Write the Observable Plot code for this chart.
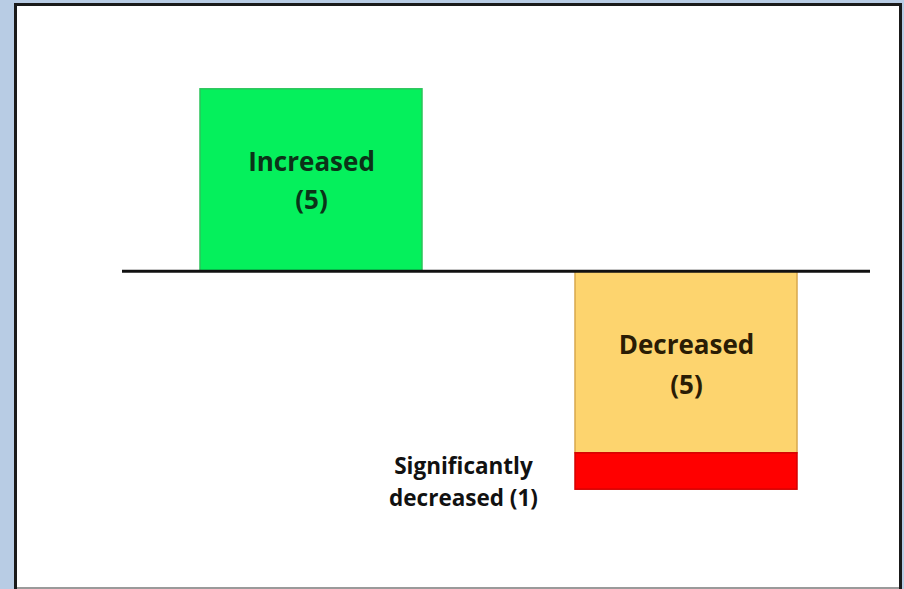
<!DOCTYPE html>
<html>
<head>
<meta charset="utf-8">
<script src="https://cdn.jsdelivr.net/npm/d3@7"></script>
<script src="https://cdn.jsdelivr.net/npm/@observablehq/plot@0.6"></script>
<style>
  html, body { margin: 0; padding: 0; }
  body { width: 904px; height: 589px; background: #b8cce4; position: relative; overflow: hidden; font-family: "Open Sans", Lato, sans-serif; }
  #panel { position: absolute; left: 14px; top: 3px; width: 888px; height: 590px; background: #fff; border-left: 3px solid #1a1a1a; border-top: 3px solid #1a1a1a; border-right: 3px solid #1a1a1a; box-sizing: border-box; }
  #bottomline { position: absolute; left: 17px; top: 587px; width: 882px; height: 2px; background: #9a9a9a; }
  #chart { position: absolute; left: 0; top: 0; }
</style>
</head>
<body>
<div id="panel"></div>
<div id="bottomline"></div>
<div id="chart"></div>
<script>
// Data
const categories = ["Increased", "Decreased"];
const segCategory = ["Increased", "Decreased", "Decreased"];
const segType = ["increased", "decreased", "significantly decreased"];
const segValue = [5, -5, -1];
const segColor = ["#05f05c", "#fdd46e", "#ff0000"];
const segStroke = ["#2bc45a", "#d8a84c", "#d40000"];

const labelCategory = ["Increased", "Decreased", "Decreased"];
const labelText = ["Increased\n(5)", "Decreased\n(5)", "Significantly\ndecreased (1)"];
const labelY = [2.56, -2.47, -5.74];

const segs = segValue.map((v, i) => ({cat: segCategory[i], type: segType[i], value: v, fill: segColor[i], stroke: segStroke[i]}));
const labels = labelText.map((t, i) => ({cat: labelCategory[i], text: t, y: labelY[i]}));

const font = "'Open Sans', Lato, sans-serif";
const plot = Plot.plot({
  width: 904,
  height: 589,
  marginLeft: 122,
  marginRight: 34,
  marginTop: 16,
  marginBottom: 27,
  style: {background: "transparent", overflow: "visible"},
  x: {domain: categories, paddingInner: 0.408, paddingOuter: 0.2013, align: 0.517, axis: null},
  y: {domain: [-8, 7], axis: null},
  marks: [
    Plot.barY(segs, {x: "cat", y: "value", fill: "fill", stroke: "stroke", strokeWidth: 1.5, order: null}),
    Plot.ruleY([0], {stroke: "#111", strokeWidth: 3}),
    Plot.text(labels.slice(0, 1), {x: "cat", y: "y", text: "text", fontSize: 26, fontWeight: "bold", fill: "#0b3318", lineHeight: 1.46, fontFamily: font}),
    Plot.text(labels.slice(1, 2), {x: "cat", y: "y", text: "text", fontSize: 26, fontWeight: "bold", fill: "#2a1c05", lineHeight: 1.54, fontFamily: font}),
    Plot.text(labels.slice(2, 3), {x: "cat", y: "y", text: "text", dx: -223, fontSize: 22.5, fontWeight: "bold", fill: "#111", lineHeight: 1.42, fontFamily: font})
  ]
});
document.getElementById("chart").appendChild(plot);
</script>
</body>
</html>
